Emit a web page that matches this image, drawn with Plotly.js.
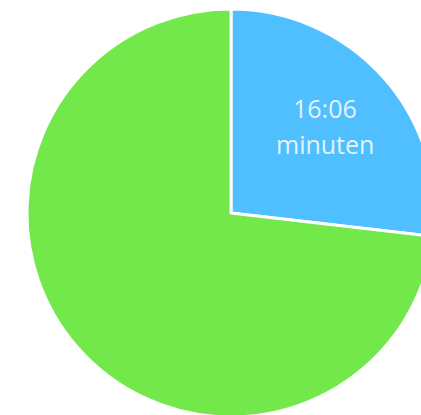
<!DOCTYPE html>
<html>
<head>
<meta charset="utf-8">
<script src="https://cdn.plot.ly/plotly-3.0.1.min.js"></script>
<style>
html,body{margin:0;padding:0;overflow:hidden;background:#fff;width:421px;height:415px;}
#chart{width:440px;height:420px;}
</style>
</head>
<body>
<div id="chart"></div>
<script>
// Data
var labels = ["Blauw", "Groen"];
var values = [16.1, 43.9];       // minutes (16:06 of 60)
var colors = ["#4fbfff", "#72e84a"];
var sliceTextLines = ["16:06", "minuten"];

var W = 440, H = 420;
var trace = {
  type: "pie",
  labels: labels,
  values: values,
  sort: false,
  direction: "clockwise",
  rotation: 0,
  marker: {colors: colors, line: {color: "#ffffff", width: 3}},
  textinfo: "none",
  hoverinfo: "none",
  showlegend: false,
  domain: {x: [27 / W, 435 / W], y: [(H - 417) / H, (H - 9) / H]}
};

var lineY = [108, 144];
var layout = {
  width: W,
  height: H,
  margin: {l: 0, r: 0, t: 0, b: 0},
  paper_bgcolor: "#ffffff",
  showlegend: false,
  annotations: sliceTextLines.map(function (t, i) {
    return {
      text: t,
      xref: "paper", yref: "paper",
      x: 325 / W, y: (H - lineY[i]) / H,
      xanchor: "center", yanchor: "middle",
      showarrow: false,
      font: {family: "Open Sans", size: 25, color: "#e4f3fc"}
    };
  })
};

Plotly.newPlot("chart", [trace], layout, {staticPlot: true, displayModeBar: false});
</script>
</body>
</html>
